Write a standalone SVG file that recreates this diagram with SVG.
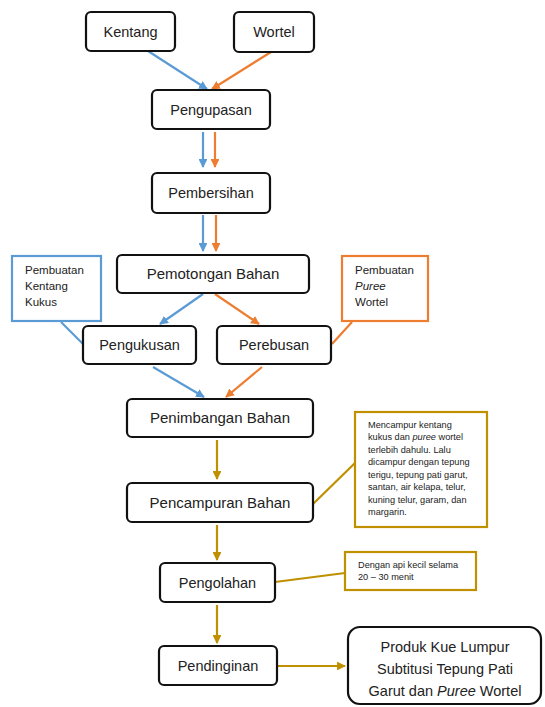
<svg xmlns="http://www.w3.org/2000/svg" width="545" height="707" viewBox="0 0 545 707">
<style>
.box{fill:#fff;stroke:#111;stroke-width:2.2}
.t{font-family:"Liberation Sans",Arial,sans-serif;fill:#222;text-anchor:middle}
.m{font-size:14.5px}
.s{font-family:"Liberation Sans",Arial,sans-serif;fill:#222;font-size:11.5px}
.n{font-family:"Liberation Sans",Arial,sans-serif;fill:#222;font-size:9.2px}
.b{stroke:#5B9BD5;stroke-width:2.2;fill:none}
.o{stroke:#ED7D31;stroke-width:2.2;fill:none}
.g{stroke:#BF9000;stroke-width:2.2;fill:none}
</style>
<defs>
<marker id="ab" viewBox="0 0 10 10" refX="9" refY="5" markerWidth="4" markerHeight="4" orient="auto"><path d="M0,0 L10,5 L0,10 z" fill="#5B9BD5"/></marker>
<marker id="ao" viewBox="0 0 10 10" refX="9" refY="5" markerWidth="4" markerHeight="4" orient="auto"><path d="M0,0 L10,5 L0,10 z" fill="#ED7D31"/></marker>
<marker id="ag" viewBox="0 0 10 10" refX="9" refY="5" markerWidth="4" markerHeight="4" orient="auto"><path d="M0,0 L10,5 L0,10 z" fill="#BF9000"/></marker>
</defs>
<rect width="545" height="707" fill="#fff"/>
<g id="connectors">
<line class="b" x1="148" y1="51" x2="207" y2="89" marker-end="url(#ab)"/>
<line class="o" x1="271" y1="52" x2="212" y2="89" marker-end="url(#ao)"/>
<line class="b" x1="203" y1="132" x2="203" y2="167" marker-end="url(#ab)"/>
<line class="o" x1="215" y1="132" x2="215" y2="167" marker-end="url(#ao)"/>
<line class="b" x1="203" y1="215" x2="203" y2="251" marker-end="url(#ab)"/>
<line class="o" x1="216" y1="215" x2="216" y2="251" marker-end="url(#ao)"/>
<line class="b" x1="203" y1="294" x2="160" y2="324" marker-end="url(#ab)"/>
<line class="o" x1="215" y1="294" x2="259" y2="324" marker-end="url(#ao)"/>
<line class="b" x1="61" y1="322" x2="83" y2="344"/>
<line class="o" x1="352" y1="322" x2="332" y2="344"/>
<line class="b" x1="153" y1="367" x2="204" y2="397" marker-end="url(#ab)"/>
<line class="o" x1="262" y1="367" x2="226" y2="397" marker-end="url(#ao)"/>
<line class="g" x1="217" y1="440" x2="217" y2="479" marker-end="url(#ag)"/>
<line class="g" x1="313" y1="504" x2="355" y2="463"/>
<line class="g" x1="217" y1="525" x2="217" y2="560" marker-end="url(#ag)"/>
<line class="g" x1="275" y1="582" x2="345" y2="573"/>
<line class="g" x1="217" y1="605" x2="217" y2="643" marker-end="url(#ag)"/>
<line class="g" x1="278" y1="666" x2="345" y2="666" marker-end="url(#ag)"/>
</g>
<g id="kentang"><rect class="box" x="86" y="12" width="89" height="39" rx="5"/><text class="t m" x="130.5" y="37">Kentang</text></g>
<g id="wortel"><rect class="box" x="234" y="12" width="80" height="40" rx="5"/><text class="t m" x="274" y="37">Wortel</text></g>
<g id="pengupasan"><rect class="box" x="152" y="90" width="118" height="39" rx="5"/><text class="t m" x="211" y="115">Pengupasan</text></g>
<g id="pembersihan"><rect class="box" x="152" y="173" width="118" height="40" rx="5"/><text class="t m" x="211" y="198">Pembersihan</text></g>
<g id="pemotongan"><rect class="box" x="117" y="255" width="192" height="38" rx="5"/><text class="t" font-size="15" x="213" y="279">Pemotongan Bahan</text></g>
<g id="note-kentang"><rect x="12" y="256" width="89" height="65" fill="#fff" stroke="#5B9BD5" stroke-width="2.2"/><text class="s" x="25" y="274">Pembuatan</text><text class="s" x="25" y="290">Kentang</text><text class="s" x="25" y="306">Kukus</text></g>
<g id="note-wortel"><rect x="342" y="256" width="86" height="65" fill="#fff" stroke="#ED7D31" stroke-width="2.2"/><text class="s" x="355" y="274">Pembuatan</text><text class="s" x="355" y="290" font-style="italic">Puree</text><text class="s" x="355" y="306">Wortel</text></g>
<g id="pengukusan"><rect class="box" x="83" y="326" width="113" height="38" rx="5"/><text class="t m" x="139.5" y="350">Pengukusan</text></g>
<g id="perebusan"><rect class="box" x="217" y="326" width="114" height="38" rx="5"/><text class="t m" x="274" y="350">Perebusan</text></g>
<g id="penimbangan"><rect class="box" x="127" y="399" width="186" height="38" rx="5"/><text class="t" font-size="15" x="220" y="423">Penimbangan Bahan</text></g>
<g id="pencampuran"><rect class="box" x="127" y="483" width="186" height="39" rx="5"/><text class="t" font-size="15" x="220" y="508">Pencampuran Bahan</text></g>
<g id="note-campur"><rect x="355" y="412" width="132" height="115" fill="#fff" stroke="#BF9000" stroke-width="2.2"/>
<text class="n" x="368" y="428">Mencampur kentang</text>
<text class="n" x="368" y="440">kukus dan <tspan font-style="italic">puree</tspan> wortel</text>
<text class="n" x="368" y="453">terlebih dahulu. Lalu</text>
<text class="n" x="368" y="465">dicampur dengan tepung</text>
<text class="n" x="368" y="478">terigu, tepung pati garut,</text>
<text class="n" x="368" y="490">santan, air kelapa, telur,</text>
<text class="n" x="368" y="503">kuning telur, garam, dan</text>
<text class="n" x="368" y="515">margarin.</text>
</g>
<g id="pengolahan"><rect class="box" x="160" y="563" width="115" height="39" rx="5"/><text class="t m" x="217.5" y="588">Pengolahan</text></g>
<g id="note-olah"><rect x="345" y="552" width="131" height="38" fill="#fff" stroke="#BF9000" stroke-width="2.2"/><text class="n" x="358" y="568">Dengan api kecil selama</text><text class="n" x="358" y="580">20 – 30 menit</text></g>
<g id="pendinginan"><rect class="box" x="159" y="646" width="118" height="39" rx="5"/><text class="t m" x="218" y="671">Pendinginan</text></g>
<g id="produk"><rect class="box" x="348" y="627" width="193" height="77" rx="12"/><text class="t m" x="445" y="652">Produk Kue Lumpur</text><text class="t m" x="445" y="674">Subtitusi Tepung Pati</text><text class="t m" x="445" y="696">Garut dan <tspan font-style="italic">Puree</tspan> Wortel</text></g>
</svg>
